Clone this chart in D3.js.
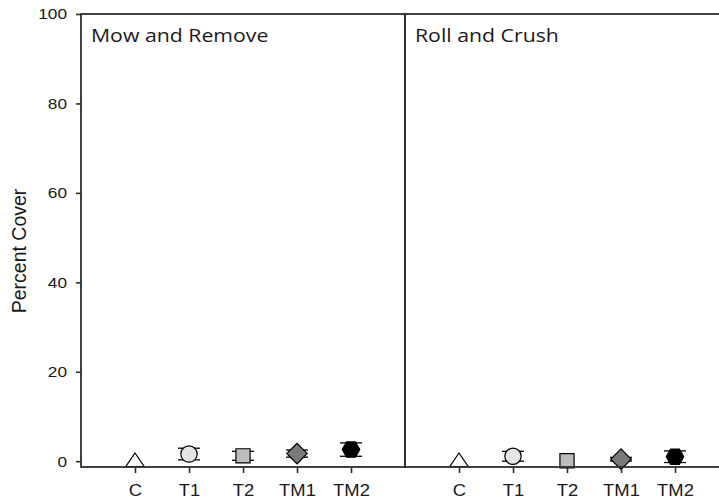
<!DOCTYPE html>
<html>
<head>
<meta charset="utf-8">
<script src="https://cdn.jsdelivr.net/npm/d3@7"></script>
<style>
  body { margin: 0; background: #fff; }
  svg { display: block; }
  text { fill: #1a1a1a; }
</style>
</head>
<body>
<svg id="chart" width="719" height="504"></svg>
<script>
// values (percent cover, mean and +/- error)
var categories = ["C", "T1", "T2", "TM1", "TM2"];
var panelTitles = ["Mow and Remove", "Roll and Crush"];
var mowMean = [0.3, 1.6, 1.2, 1.7, 2.6];
var mowErr  = [0, 1.3, 1.0, 0.8, 1.5];
var rollMean = [0.3, 1.1, 0.1, 0.45, 1.0];
var rollErr  = [0, 1.1, 0, 0.4, 1.3];
var yTicks = [0, 20, 40, 60, 80, 100];

var markerFill = { C: "#ffffff", T1: "#e4e4e4", T2: "#bdbdbd", TM1: "#7a7a7a", TM2: "#000000" };

var svg = d3.select("#chart");
var stretch = 1.15; // original figure is a bit wider than tall
var lineCol = "#2e2e2e";

var plotTop = 14, plotBottom = 467, plotLeft = 81, panelW = 324;

var y = d3.scaleLinear().domain([-1.3, 100]).range([plotBottom, plotTop]);

// hexagon symbol, points left and right
var hexagon = {
  draw: function(ctx, size) {
    var r = Math.sqrt(size / (1.5 * Math.sqrt(3)));
    for (var i = 0; i < 6; i++) {
      var a = Math.PI / 3 * i;
      if (i === 0) ctx.moveTo(r * Math.cos(a), r * Math.sin(a));
      else ctx.lineTo(r * Math.cos(a), r * Math.sin(a));
    }
    ctx.closePath();
  }
};
var triangle = {
  draw: function(ctx, size) {
    var w = Math.sqrt(size * 4 / Math.sqrt(3));
    var h = w * Math.sqrt(3) / 2 * 0.85;
    ctx.moveTo(0, -h / 2);
    ctx.lineTo(w / 2, h / 2);
    ctx.lineTo(-w / 2, h / 2);
    ctx.closePath();
  }
};
var symbols = {
  C:   d3.symbol().type(triangle).size(150),
  T1:  d3.symbol().type(d3.symbolCircle).size(210),
  T2:  d3.symbol().type(d3.symbolSquare).size(200),
  TM1: d3.symbol().type(d3.symbolSquare).size(210),
  TM2: d3.symbol().type(hexagon).size(200)
};

function stretchText(sel) {
  sel.each(function() {
    var t = d3.select(this);
    var x = +t.attr("x") || 0;
    t.attr("x", 0).attr("transform", "translate(" + x + ",0) scale(" + stretch + ",1)");
  });
}

function drawPanel(idx, means, errs) {
  var x0 = plotLeft + idx * panelW;
  var x = d3.scalePoint().domain(categories).range([x0, x0 + panelW]).padding(1);
  var g = svg.append("g");

  var data = categories.map(function(c, i) { return { cat: c, mean: means[i], err: errs[i] }; });

  // bottom axis ticks + labels
  var xAxis = d3.axisBottom(x).tickSize(6).tickPadding(12);
  var xg = g.append("g").attr("transform", "translate(0," + plotBottom + ")").call(xAxis);
  xg.select(".domain").remove();
  xg.selectAll("line").attr("stroke", lineCol).attr("stroke-width", 1.6);
  xg.selectAll("text")
    .attr("font-family", "'Liberation Sans', Arial, sans-serif")
    .attr("font-size", 16)
    .style("fill", "#1a1a1a")
    .call(stretchText);

  // error bars
  var eb = g.selectAll(".err").data(data.filter(function(d) { return d.err > 0; }))
    .enter().append("g").attr("class", "err")
    .attr("stroke", "#000").attr("stroke-width", 1.3);
  eb.append("line")
    .attr("x1", function(d) { return x(d.cat); }).attr("x2", function(d) { return x(d.cat); })
    .attr("y1", function(d) { return y(d.mean - d.err); }).attr("y2", function(d) { return y(d.mean + d.err); });
  [-1, 1].forEach(function(s) {
    eb.append("line")
      .attr("x1", function(d) { return x(d.cat) - 11; }).attr("x2", function(d) { return x(d.cat) + 11; })
      .attr("y1", function(d) { return y(d.mean + s * d.err); }).attr("y2", function(d) { return y(d.mean + s * d.err); });
  });

  // markers
  g.selectAll(".pt").data(data).enter().append("path")
    .attr("class", "pt")
    .attr("d", function(d) { return symbols[d.cat](); })
    .attr("transform", function(d) {
      var t = "translate(" + x(d.cat) + "," + y(d.mean) + ")";
      return d.cat === "TM1" ? t + " rotate(45)" : t;
    })
    .attr("fill", function(d) { return markerFill[d.cat]; })
    .attr("stroke", "#000").attr("stroke-width", 1.2);

  // panel frame
  g.append("rect")
    .attr("x", x0).attr("y", plotTop).attr("width", panelW).attr("height", plotBottom - plotTop)
    .attr("fill", "none").attr("stroke", lineCol).attr("stroke-width", 1.8);

  g.append("text")
    .attr("x", 0).attr("y", 0)
    .attr("transform", "translate(" + (x0 + 10) + ",42) scale(" + stretch + ",1)")
    .attr("font-family", "'Open Sans', 'Noto Sans', sans-serif")
    .attr("font-size", 18.5)
    .text(panelTitles[idx]);
}

drawPanel(0, mowMean, mowErr);
drawPanel(1, rollMean, rollErr);

// left axis
var yAxis = d3.axisLeft(y).tickValues(yTicks).tickSize(5).tickPadding(9);
var yg = svg.append("g").attr("transform", "translate(" + plotLeft + ",0)").call(yAxis);
yg.select(".domain").remove();
yg.selectAll("line").attr("stroke", lineCol).attr("stroke-width", 1.6);
yg.selectAll("text")
  .attr("font-family", "'Liberation Sans', Arial, sans-serif")
  .attr("font-size", 15)
  .style("fill", "#1a1a1a")
  .call(stretchText);

svg.append("text")
  .attr("transform", "translate(26," + 251 + ") rotate(-90)")
  .attr("text-anchor", "middle")
  .attr("font-family", "'Liberation Sans', Arial, sans-serif")
  .attr("font-size", 19.5)
  .text("Percent Cover");
</script>
</body>
</html>
